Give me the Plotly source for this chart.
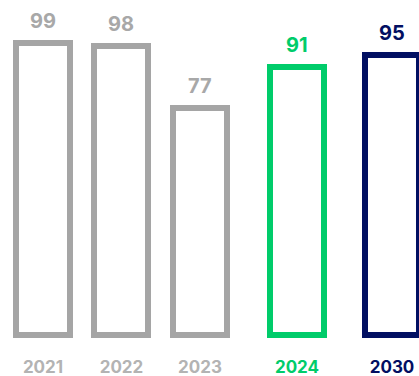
import plotly.graph_objects as go

# Data
hist_years = ["2021", "2022", "2023"]
hist_values = [99, 98, 77]
target_years = ["2024", "2030"]
target_values = [91, 95]

GRAY = "#a5a5a5"
GRAY_TXT = "#a8a8a8"
GREEN = "#00cc6a"
NAVY = "#020f62"
target_colors = [GREEN, NAVY]
FONT = "Inter"

fig = go.Figure()

fig.add_trace(go.Bar(
    x=hist_years, y=hist_values, xaxis="x", yaxis="y",
    width=0.688,
    marker=dict(color="rgba(255,255,255,0)", line=dict(color=GRAY, width=6)),
    hoverinfo="skip", showlegend=False,
))
fig.add_trace(go.Bar(
    x=target_years, y=target_values, xaxis="x2", yaxis="y",
    width=0.568,
    marker=dict(color="rgba(255,255,255,0)", line=dict(color=target_colors, width=6)),
    hoverinfo="skip", showlegend=False,
))

annotations = []
for i, v in enumerate(hist_values):
    annotations.append(dict(x=i, y=v, xref="x", yref="y", text=str(v),
                            showarrow=False, yanchor="bottom", yshift=8,
                            font=dict(family=FONT, size=20, color=GRAY_TXT, weight=700)))
for i, (v, c) in enumerate(zip(target_values, target_colors)):
    annotations.append(dict(x=i, y=v, xref="x2", yref="y", text=str(v),
                            showarrow=False, yanchor="bottom", yshift=8,
                            font=dict(family=FONT, size=20, color=c, weight=700)))

fig.update_layout(
    width=419, height=376,
    margin=dict(l=0, r=0, t=0, b=31),
    paper_bgcolor="white", plot_bgcolor="white",
    bargap=0,
    xaxis=dict(domain=[0, 240 / 419], range=[-0.548, 2.510], type="category",
               showgrid=False, zeroline=False, showline=False, ticks="",
               ticklabelstandoff=10,
               tickfont=dict(family=FONT, size=17, color="#b3b3b3", weight=700)),
    xaxis2=dict(domain=[250 / 419, 1], range=[-0.4947, 1.284], type="category",
                anchor="y",
                showgrid=False, zeroline=False, showline=False, ticks="",
                ticklabelstandoff=10,
                tickvals=target_years,
                ticktext=[f'<span style="color:{c}">{t}</span>' for t, c in zip(target_years, target_colors)],
                tickfont=dict(family=FONT, size=17, color=NAVY, weight=700)),
    yaxis=dict(range=[-3.39, 113.56], visible=False, showgrid=False, zeroline=False),
    annotations=annotations,
)

fig.write_html("out.html", config={"displayModeBar": False},
               post_script="document.body.style.margin='0';document.body.style.overflow='hidden';")
